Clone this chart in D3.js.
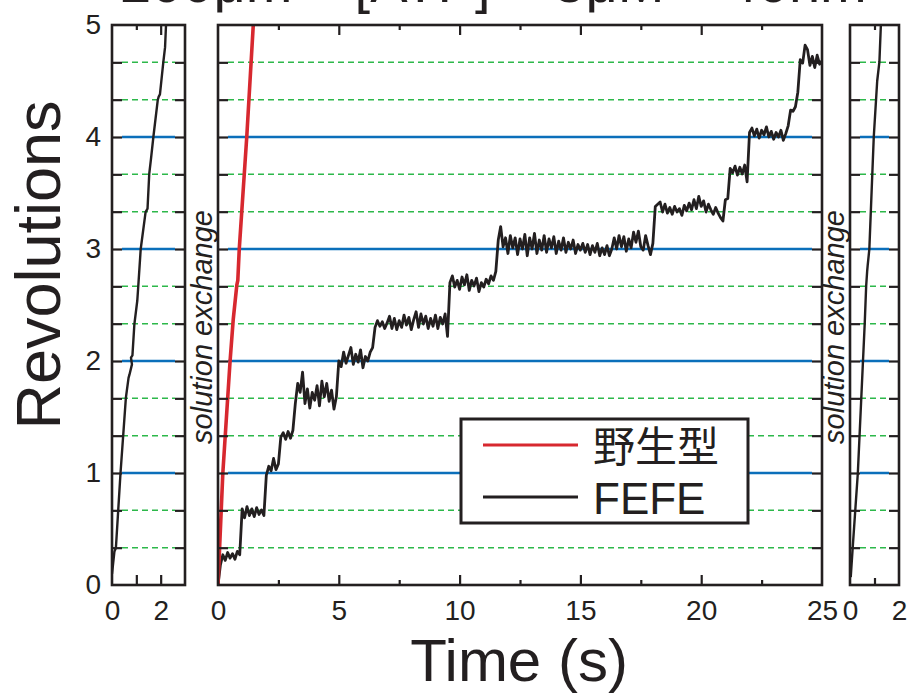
<!DOCTYPE html>
<html>
<head>
<meta charset="utf-8">
<script src="https://cdn.jsdelivr.net/npm/d3@7"></script>
<style>
  body { margin: 0; background: #fff; }
  text { font-family: "Liberation Sans", Arial, "Noto Sans CJK SC", sans-serif; fill: #231f20; }
</style>
</head>
<body>
<svg id="chart" width="908" height="695"></svg>
<script>
// revolutions grid: integers solid blue, thirds dashed green
const revTicks = [0, 1, 2, 3, 4, 5]
const blueRevs = [1, 2, 3, 4]
const greenRevs = [1/3, 2/3, 4/3, 5/3, 7/3, 8/3, 10/3, 11/3, 13/3, 14/3]

// left panel (before solution exchange)
const leftTime = [0, 0.05, 0.1, 0.16, 0.35, 0.57, 0.68, 0.72, 0.82, 0.78, 0.84, 0.92, 1.04, 1.08, 1.18, 1.38, 1.46, 1.53, 1.6, 1.7, 1.88, 1.92, 1.97, 2.11, 2.18, 2.22]
const leftRevs = [0.1, 0.2, 0.3, 0.33, 1, 1.67, 1.85, 1.88, 1.97, 2.03, 2.05, 2.33, 2.54, 2.67, 3, 3.33, 3.36, 3.67, 3.8, 4, 4.33, 4.36, 4.38, 4.67, 4.8, 5]

// right panel (after solution exchange)
const rightTime = [0.03, 0.1, 0.32, 0.53, 0.6, 0.66, 0.7, 0.72, 0.79, 0.97, 1.11, 1.2, 1.26]
const rightRevs = [0.07, 0.3, 1, 2, 2.33, 2.67, 2.8, 2.85, 3, 4, 4.5, 4.67, 5]

// wild type
const wtTime = [0, 0.2, 0.5, 0.63, 0.78, 0.82, 0.88, 1.19, 1.46]
const wtRevs = [0, 1, 2, 2.37, 2.68, 2.72, 3, 4, 5]

// FEFE, one value per frame
const fefeDt = 0.1
const fefeRevs = [
  0.00, 0.18, 0.27, 0.22, 0.29, 0.24, 0.28, 0.23, 0.30, 0.27,
  0.68, 0.60, 0.70, 0.62, 0.68, 0.61, 0.69, 0.63, 0.67, 0.62,
  0.98, 1.06, 1.02, 1.13, 1.03, 1.08, 1.32, 1.36, 1.30, 1.37,
  1.31, 1.38, 1.62, 1.80, 1.72, 1.90, 1.62, 1.75, 1.58, 1.72,
  1.65, 1.78, 1.60, 1.82, 1.68, 1.80, 1.64, 1.74, 1.57, 1.68,
  2.00, 1.95, 2.08, 1.98, 2.05, 2.12, 1.97, 2.06, 1.99, 2.10,
  1.94, 2.04, 2.00, 2.08, 2.12, 2.30, 2.36, 2.31, 2.35, 2.29,
  2.34, 2.40, 2.29, 2.38, 2.28, 2.36, 2.30, 2.41, 2.32, 2.39,
  2.28, 2.37, 2.44, 2.30, 2.42, 2.33, 2.40, 2.29, 2.38, 2.31,
  2.41, 2.29, 2.39, 2.33, 2.42, 2.22, 2.70, 2.76, 2.66, 2.72,
  2.64, 2.75, 2.68, 2.77, 2.63, 2.72, 2.67, 2.74, 2.62, 2.70,
  2.66, 2.73, 2.69, 2.76, 2.72, 2.80, 3.08, 3.20, 3.02, 3.10,
  2.96, 3.12, 3.01, 3.10, 2.95, 3.09, 3.00, 3.13, 2.94, 3.10,
  3.00, 3.14, 2.96, 3.08, 2.99, 3.12, 2.97, 3.09, 3.01, 3.11,
  2.96, 3.07, 2.99, 3.10, 2.97, 3.06, 3.00, 3.08, 2.96, 3.04,
  2.99, 3.05, 2.97, 3.04, 2.95, 3.03, 2.97, 3.05, 2.94, 3.01,
  2.95, 3.03, 2.94, 3.00, 3.10, 3.00, 3.12, 3.02, 3.11, 2.98,
  3.09, 3.01, 3.15, 3.06, 3.16, 3.02, 2.99, 3.12, 3.03, 2.95,
  3.05, 3.38, 3.40, 3.42, 3.33, 3.40, 3.32, 3.37, 3.31, 3.38,
  3.33, 3.36, 3.30, 3.39, 3.34, 3.41, 3.35, 3.44, 3.36, 3.47,
  3.38, 3.43, 3.33, 3.40, 3.35, 3.31, 3.37, 3.32, 3.28, 3.25,
  3.44, 3.45, 3.72, 3.68, 3.74, 3.66, 3.73, 3.67, 3.75, 3.60,
  4.04, 4.08, 4.01, 4.07, 3.99, 4.06, 4.02, 4.09, 4.00, 4.05,
  3.98, 4.04, 4.00, 4.06, 3.97, 4.03, 4.10, 4.24, 4.23, 4.27,
  4.40, 4.69, 4.66, 4.82, 4.78, 4.64, 4.72, 4.62, 4.73, 4.65,
  4.68
]

const mainLabels = [0, 5, 10, 15, 20, 25]
const mainMajor = [5, 10, 15, 20]
const mainMinor = [2.5, 7.5, 12.5, 17.5, 22.5]
const sideLabels = [0, 2]

const legendNames = ['野生型', 'FEFE']

const ink = '#231f20'
const red = '#d7282f'
const blue = '#0b6fba'
const green = '#2db84a'

const svg = d3.select('#chart')
svg.append('rect').attr('width', 908).attr('height', 695).attr('fill', '#fff')

const y = d3.scaleLinear().domain([0, 5]).range([585, 25])

const panels = [
  { id: 'left', x: d3.scaleLinear().domain([0, 3]).range([112, 185]),
    labels: sideLabels, top: [[1, 5], [2, 10]], bottom: [[1, 10], [2, 10]],
    series: [{ t: leftTime, r: leftRevs, color: ink, width: 2.4 }] },
  { id: 'main', x: d3.scaleLinear().domain([0, 25]).range([218, 822]),
    labels: mainLabels,
    top: mainMajor.map(v => [v, 10]).concat(mainMinor.map(v => [v, 5])),
    bottom: mainMajor.map(v => [v, 10]).concat(mainMinor.map(v => [v, 5])),
    series: [
      { t: fefeRevs.map((_, i) => i * fefeDt), r: fefeRevs, color: ink, width: 2.8 },
      { t: wtTime, r: wtRevs, color: red, width: 3.6 }
    ] },
  { id: 'right', x: d3.scaleLinear().domain([0, 2]).range([850, 899]),
    labels: sideLabels, top: [[1, 5]], bottom: [[1, 7]],
    series: [{ t: rightTime, r: rightRevs, color: ink, width: 2.4 }] }
]

const tickLen = 10

panels.forEach(p => {
  const [x0, x1] = p.x.range()
  const g = svg.append('g').attr('class', 'panel-' + p.id)

  svg.append('clipPath').attr('id', 'clip-' + p.id)
    .append('rect').attr('x', x0).attr('y', y(5)).attr('width', x1 - x0).attr('height', y(0) - y(5))

  g.append('g').selectAll('line')
    .data(greenRevs)
    .enter().append('line')
    .attr('x1', x0 + tickLen).attr('x2', x1 - tickLen)
    .attr('y1', d => y(d)).attr('y2', d => y(d))
    .attr('stroke', green).attr('stroke-width', 1.5).attr('stroke-dasharray', '6,4')

  g.append('g').selectAll('line')
    .data(blueRevs)
    .enter().append('line')
    .attr('x1', x0 + tickLen).attr('x2', x1 - tickLen)
    .attr('y1', d => y(d)).attr('y2', d => y(d))
    .attr('stroke', blue).attr('stroke-width', 2.5)

  p.series.forEach(s => {
    g.append('path')
      .datum(d3.zip(s.t, s.r))
      .attr('clip-path', 'url(#clip-' + p.id + ')')
      .attr('fill', 'none')
      .attr('stroke', s.color).attr('stroke-width', s.width)
      .attr('stroke-linejoin', 'round')
      .attr('d', d3.line().x(d => p.x(d[0])).y(d => y(d[1])))
  })

  // y ticks on both sides
  const yTicks = blueRevs.concat(greenRevs)
  g.append('g').attr('transform', `translate(${x0},0)`)
    .call(d3.axisLeft(y).tickValues(yTicks).tickSize(-tickLen).tickFormat(''))
  g.append('g').attr('transform', `translate(${x1},0)`)
    .call(d3.axisRight(y).tickValues(yTicks).tickSize(-tickLen).tickFormat(''))

  // x ticks top and bottom
  p.bottom.forEach(([v, len]) => {
    g.append('g').attr('transform', `translate(0,${y(0)})`)
      .call(d3.axisBottom(p.x).tickValues([v]).tickSize(-len).tickFormat(''))
  })
  p.top.forEach(([v, len]) => {
    g.append('g').attr('transform', `translate(0,${y(5)})`)
      .call(d3.axisTop(p.x).tickValues([v]).tickSize(-len).tickFormat(''))
  })

  // tick labels
  g.append('g').attr('class', 'xlabels').attr('transform', `translate(0,${y(0)})`)
    .call(d3.axisBottom(p.x).tickValues(p.labels).tickSize(0).tickPadding(15).tickFormat(d3.format('d')))

  g.selectAll('.domain').remove()
  g.selectAll('.tick line').attr('stroke', ink).attr('stroke-width', 2.2)
  g.selectAll('.xlabels text').attr('font-size', 28).attr('fill', ink)
    .style('font-family', '"Liberation Sans", Arial, sans-serif')

  g.append('rect')
    .attr('x', x0).attr('y', y(5)).attr('width', x1 - x0).attr('height', y(0) - y(5))
    .attr('fill', 'none').attr('stroke', ink).attr('stroke-width', 2.6)
})

// y labels
const yLab = svg.append('g').attr('transform', 'translate(112,0)')
  .call(d3.axisLeft(y).tickValues(revTicks).tickSize(0).tickPadding(11).tickFormat(d3.format('d')))
yLab.select('.domain').remove()
yLab.selectAll('text').attr('font-size', 28).attr('fill', ink)
  .style('font-family', '"Liberation Sans", Arial, sans-serif')

// axis titles
svg.append('text')
  .attr('transform', 'translate(60,265) rotate(-90)')
  .attr('text-anchor', 'middle')
  .attr('font-size', 63)
  .text('Revolutions')

svg.append('text')
  .attr('x', 519).attr('y', 681)
  .attr('text-anchor', 'middle')
  .attr('font-size', 60)
  .text('Time (s)')

// cut-off title at the very top
svg.append('text')
  .attr('x', 120).attr('y', 2)
  .attr('font-size', 56)
  .text('200μm – [ATP] = 5μM – 40nm')

// solution exchange notes
;[212, 844].forEach(bx => {
  svg.append('text')
    .attr('transform', `translate(${bx},327) rotate(-90)`)
    .attr('text-anchor', 'middle')
    .attr('font-size', 29)
    .attr('font-style', 'italic')
    .text('solution exchange')
})

// legend
const legend = svg.append('g').attr('transform', 'translate(461,419)')
legend.append('rect')
  .attr('width', 287).attr('height', 104)
  .attr('fill', '#fff').attr('stroke', ink).attr('stroke-width', 3)

const legendRows = legend.selectAll('g.row')
  .data(legendNames)
  .enter().append('g')
  .attr('class', 'row')
  .attr('transform', (d, i) => `translate(0,${26 + i * 52})`)

legendRows.append('line')
  .attr('x1', 22).attr('x2', 117)
  .attr('stroke', (d, i) => i === 0 ? red : ink)
  .attr('stroke-width', 3.2)

legendRows.append('text')
  .attr('x', 132)
  .attr('y', 17)
  .attr('font-size', (d, i) => i === 0 ? 42 : 44)
  .style('font-family', (d, i) => i === 0 ? '"Noto Sans CJK SC", sans-serif' : '"Liberation Sans", Arial, sans-serif')
  .text(d => d)
</script>
</body>
</html>
